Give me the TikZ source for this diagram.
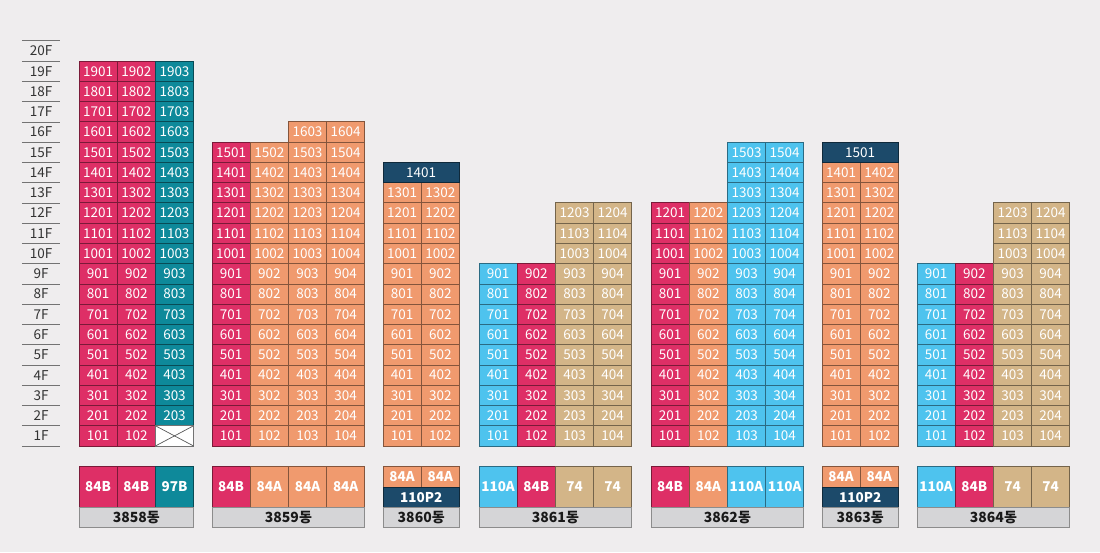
\documentclass[tikz,border=0pt]{standalone}
\usepackage{fontspec}
\setmainfont{Noto Sans CJK KR}
\usepackage{tikz}
\usetikzlibrary{positioning}
\usepackage{xcolor}

\definecolor{bgc}{HTML}{EFEDEE}
\definecolor{pinkc}{HTML}{DE2F66}
\definecolor{orangec}{HTML}{F09A6E}
\definecolor{bluec}{HTML}{4EC3EE}
\definecolor{tanc}{HTML}{D3B588}
\definecolor{tealc}{HTML}{0E899A}
\definecolor{navyc}{HTML}{1C4A6A}
\definecolor{grayc}{HTML}{D5D5D7}

\tikzset{
  cell/.style={draw=#1!55!black, fill=#1, line width=0.8pt, outer sep=0pt,
    minimum width=38.2pt, minimum height=20.26pt, inner sep=0pt,
    text=white, font=\fontsize{13.5}{15}\selectfont},
  typebox/.style={cell=#1, minimum height=40.5pt, font=\fontsize{13.5}{15}\selectfont\bfseries},
  halfbox/.style={cell=#1, font=\fontsize{13.5}{15}\selectfont\bfseries},
  namebox/.style={draw=black!45, fill=grayc, line width=0.8pt, outer sep=0pt,
    minimum height=20.26pt, inner sep=0pt, text=black!90,
    font=\fontsize{14}{15}\selectfont\bfseries},
  floorlbl/.style={minimum width=38pt, minimum height=20.26pt, inner sep=0pt,
    text=black!80, font=\fontsize{13.5}{15}\selectfont},
  floorline/.style={black!55, line width=0.9pt}
}

% one column of units: building, building left x, unit no, first floor, last floor, colour
\newcommand{\unitcol}[6]{%
  \foreach \f in {#4,...,#5}
    \node[cell=#6] (#1-#3-\f) at ({#2+(#3-0.5)*38.2},{446-(\f-0.5)*20.26}) {\f0#3};}

\begin{document}
\begin{tikzpicture}[x=1pt, y=-1pt]
  \useasboundingbox (0,0) rectangle (1100,552);
  \fill[bgc] (0,0) rectangle (1100,552);

  % floor labels
  \foreach \f in {1,...,20}{
    \node[floorlbl] (fl-\f) at (41,{446-(\f-0.5)*20.26}) {\f F};
    \draw[floorline] (fl-\f.south west) -- (fl-\f.south east);
  }
  \draw[floorline] (fl-20.north west) -- (fl-20.north east);

  % 3858
  \unitcol{u3858}{79}{1}{1}{19}{pinkc}
  \unitcol{u3858}{79}{2}{1}{19}{pinkc}
  \unitcol{u3858}{79}{3}{2}{19}{tealc}
  \node[cell=white, draw=black!55] (u3858-3-1) at (174.5,{446-0.5*20.26}) {};
  \draw[black!65, line width=0.7pt] (u3858-3-1.north west) -- (u3858-3-1.south east);
  \draw[black!65, line width=0.7pt] (u3858-3-1.south west) -- (u3858-3-1.north east);
  \node[typebox=pinkc] (t3858-1) at (98.1,487) {84B};
  \node[typebox=pinkc, right=0pt of t3858-1] (t3858-2) {84B};
  \node[typebox=tealc, right=0pt of t3858-2] (t3858-3) {97B};
  \node[namebox, minimum width=114.6pt, anchor=north west] (n3858) at (t3858-1.south west) {3858동};

  % 3859
  \unitcol{u3859}{212}{1}{1}{15}{pinkc}
  \unitcol{u3859}{212}{2}{1}{15}{orangec}
  \unitcol{u3859}{212}{3}{1}{16}{orangec}
  \unitcol{u3859}{212}{4}{1}{16}{orangec}
  \node[typebox=pinkc] (t3859-1) at (231.1,487) {84B};
  \node[typebox=orangec, right=0pt of t3859-1] (t3859-2) {84A};
  \node[typebox=orangec, right=0pt of t3859-2] (t3859-3) {84A};
  \node[typebox=orangec, right=0pt of t3859-3] (t3859-4) {84A};
  \node[namebox, minimum width=152.8pt, anchor=north west] (n3859) at (t3859-1.south west) {3859동};

  % 3860
  \unitcol{u3860}{383}{1}{1}{13}{orangec}
  \unitcol{u3860}{383}{2}{1}{13}{orangec}
  \node[cell=navyc, minimum width=76.4pt] (u3860-14) at (421.2,{446-13.5*20.26}) {1401};
  \node[halfbox=orangec] (t3860-1) at (402.1,477) {84A};
  \node[halfbox=orangec, right=0pt of t3860-1] (t3860-2) {84A};
  \node[halfbox=navyc, minimum width=76.4pt, anchor=north west] (t3860-p) at (t3860-1.south west) {110P2};
  \node[namebox, minimum width=76.4pt, anchor=north west] (n3860) at (t3860-p.south west) {3860동};

  % 3861
  \unitcol{u3861}{479}{1}{1}{9}{bluec}
  \unitcol{u3861}{479}{2}{1}{9}{pinkc}
  \unitcol{u3861}{479}{3}{1}{12}{tanc}
  \unitcol{u3861}{479}{4}{1}{12}{tanc}
  \node[typebox=bluec] (t3861-1) at (498.1,487) {110A};
  \node[typebox=pinkc, right=0pt of t3861-1] (t3861-2) {84B};
  \node[typebox=tanc, right=0pt of t3861-2] (t3861-3) {74};
  \node[typebox=tanc, right=0pt of t3861-3] (t3861-4) {74};
  \node[namebox, minimum width=152.8pt, anchor=north west] (n3861) at (t3861-1.south west) {3861동};

  % 3862
  \unitcol{u3862}{651}{1}{1}{12}{pinkc}
  \unitcol{u3862}{651}{2}{1}{12}{orangec}
  \unitcol{u3862}{651}{3}{1}{15}{bluec}
  \unitcol{u3862}{651}{4}{1}{15}{bluec}
  \node[typebox=pinkc] (t3862-1) at (670.1,487) {84B};
  \node[typebox=orangec, right=0pt of t3862-1] (t3862-2) {84A};
  \node[typebox=bluec, right=0pt of t3862-2] (t3862-3) {110A};
  \node[typebox=bluec, right=0pt of t3862-3] (t3862-4) {110A};
  \node[namebox, minimum width=152.8pt, anchor=north west] (n3862) at (t3862-1.south west) {3862동};

  % 3863
  \unitcol{u3863}{822}{1}{1}{14}{orangec}
  \unitcol{u3863}{822}{2}{1}{14}{orangec}
  \node[cell=navyc, minimum width=76.4pt] (u3863-15) at (860.2,{446-14.5*20.26}) {1501};
  \node[halfbox=orangec] (t3863-1) at (841.1,477) {84A};
  \node[halfbox=orangec, right=0pt of t3863-1] (t3863-2) {84A};
  \node[halfbox=navyc, minimum width=76.4pt, anchor=north west] (t3863-p) at (t3863-1.south west) {110P2};
  \node[namebox, minimum width=76.4pt, anchor=north west] (n3863) at (t3863-p.south west) {3863동};

  % 3864
  \unitcol{u3864}{917}{1}{1}{9}{bluec}
  \unitcol{u3864}{917}{2}{1}{9}{pinkc}
  \unitcol{u3864}{917}{3}{1}{12}{tanc}
  \unitcol{u3864}{917}{4}{1}{12}{tanc}
  \node[typebox=bluec] (t3864-1) at (936.1,487) {110A};
  \node[typebox=pinkc, right=0pt of t3864-1] (t3864-2) {84B};
  \node[typebox=tanc, right=0pt of t3864-2] (t3864-3) {74};
  \node[typebox=tanc, right=0pt of t3864-3] (t3864-4) {74};
  \node[namebox, minimum width=152.8pt, anchor=north west] (n3864) at (t3864-1.south west) {3864동};
\end{tikzpicture}
\end{document}
